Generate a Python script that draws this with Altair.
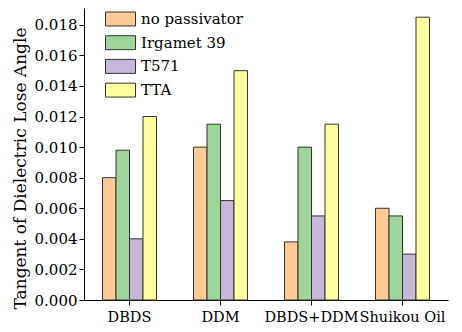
import altair as alt
import pandas as pd

categories = ["DBDS", "DDM", "DBDS+DDM", "Shuikou Oil"]
series = ["no passivator", "Irgamet 39", "T571", "TTA"]
no_passivator = [0.0080, 0.0100, 0.0038, 0.0060]
irgamet_39 = [0.0098, 0.0115, 0.0100, 0.0055]
t571 = [0.0040, 0.0065, 0.0055, 0.0030]
tta = [0.0120, 0.0150, 0.0115, 0.0185]
y_ticks = [0.000, 0.002, 0.004, 0.006, 0.008, 0.010, 0.012, 0.014, 0.016, 0.018]
colors = ["#FFCA94", "#9ED69A", "#C6B6DA", "#FFFF9E"]

rows = []
for name, vals in zip(series, [no_passivator, irgamet_39, t571, tta]):
    for c, v in zip(categories, vals):
        rows.append({"category": c, "series": name, "value": v})
df = pd.DataFrame(rows)

font = "DejaVu Serif"

chart = alt.Chart(df).mark_bar(stroke="#333333", strokeWidth=1).encode(
    x=alt.X("category:N", sort=categories, title=None,
            scale=alt.Scale(paddingInner=0.407, paddingOuter=0.2035),
            axis=alt.Axis(labelAngle=0, labelFontSize=14.5, labelFont=font,
                          labelColor="black", domainColor="black",
                          tickColor="black", tickSize=5, labelPadding=5)),
    xOffset=alt.XOffset("series:N", sort=series,
                        scale=alt.Scale(paddingInner=0, paddingOuter=0)),
    y=alt.Y("value:Q", title="Tangent of Dielectric Lose Angle",
            scale=alt.Scale(domain=[0, 0.0191], nice=False, zero=True),
            axis=alt.Axis(values=y_ticks, format=".3f", grid=False,
                          labelFontSize=15, labelFont=font, labelColor="black",
                          titleFontSize=17, titleFontWeight="normal",
                          titleFont=font, titleY=160,
                          titleColor="black", domainColor="black",
                          tickColor="black", tickSize=5, titlePadding=5)),
    color=alt.Color("series:N", sort=series,
                    scale=alt.Scale(domain=series, range=colors),
                    legend=alt.Legend(title=None, orient="none", legendX=28.5, legendY=3,
                                      symbolType="M-2,-0.93H2V0.93H-2Z",
                                      symbolSize=225, symbolStrokeColor="#333333",
                                      symbolStrokeWidth=1, symbolOpacity=1,
                                      labelFont=font, labelFontSize=15,
                                      labelColor="black", rowPadding=5.7,
                                      labelOffset=12.5, padding=0)),
).properties(
    width=364, height=292,
    padding={"left": 3, "top": 0, "right": 5, "bottom": 0},
).configure_view(stroke=None)

chart.save("out.html", embed_options={"renderer": "svg", "actions": False})
